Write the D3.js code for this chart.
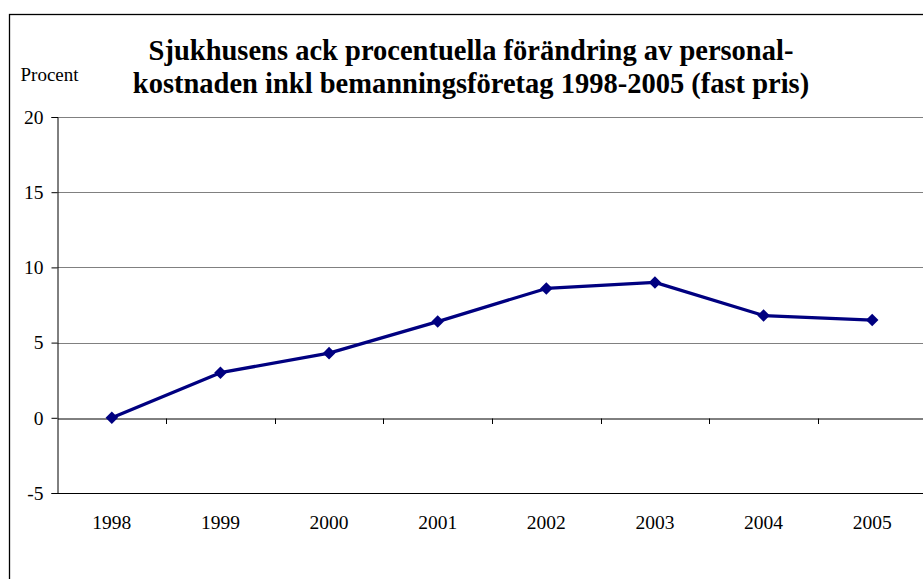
<!DOCTYPE html>
<html><head><meta charset="utf-8">
<script src="https://cdn.jsdelivr.net/npm/d3@7"></script>
<style>body{margin:0;background:#fff}svg{display:block}</style>
</head><body>
<svg id="c" width="923" height="579"></svg>
<script>
const years = ["1998","1999","2000","2001","2002","2003","2004","2005"];
const values = [0, 3.0, 4.3, 6.4, 8.6, 9.0, 6.8, 6.5];
const yTicks = [-5, 0, 5, 10, 15, 20];
const titleLines = ["Sjukhusens ack procentuella förändring av personal-", "kostnaden inkl bemanningsföretag 1998-2005 (fast pris)"];
const yLabel = "Procent";

const svg = d3.select("#c");
const font = "Liberation Serif, Times New Roman, serif";
const L = 57.5, R = 926.5, T = 117, B = 493;

svg.append("rect").attr("x",9.5).attr("y",14.5).attr("width",1000).attr("height",1000)
  .attr("fill","#fff").attr("stroke","#000").attr("stroke-width",1.3);

const x = d3.scaleBand().domain(years).range([L, R]).padding(0);
const y = d3.scaleLinear().domain([-5, 20]).range([B, T]);

// gridlines
svg.append("g").selectAll("line").data(yTicks.filter(v => v !== -5 && v !== 0)).join("line")
  .attr("x1", L).attr("x2", R).attr("y1", d => Math.round(y(d))+0.5).attr("y2", d => Math.round(y(d))+0.5)
  .attr("stroke", "#808080").attr("stroke-width", 1);

// y axis
const ya = d3.axisLeft(y).tickValues(yTicks).tickSize(6).tickPadding(8).tickFormat(d => String(d));
const gy = svg.append("g").attr("transform", `translate(${L},0)`).call(ya);
gy.attr("font-family", font).attr("font-size", 19.5);
gy.select(".domain").attr("stroke","#000");
gy.selectAll("line").attr("stroke","#000");
gy.selectAll("text").attr("fill","#000");

// bottom border
svg.append("line").attr("x1", L).attr("x2", R).attr("y1", Math.round(B)+0.5).attr("y2", Math.round(B)+0.5)
  .attr("stroke","#000");

// zero axis with ticks at band boundaries
const xa = d3.axisBottom(x).tickSize(0).tickFormat("");
const gx = svg.append("g").attr("transform", `translate(0,${Math.round(y(0))+0.5})`).call(xa);
gx.select(".domain").attr("stroke","#000");
svg.append("g").selectAll("line").data(years.slice(1)).join("line")
  .attr("x1", d => Math.round(x(d))+0.5).attr("x2", d => Math.round(x(d))+0.5)
  .attr("y1", Math.round(y(0))+0.5).attr("y2", Math.round(y(0))+6)
  .attr("stroke","#000");

// category labels
svg.append("g").selectAll("text").data(years).join("text")
  .attr("x", d => x(d) + x.bandwidth()/2).attr("y", 529)
  .attr("text-anchor","middle").attr("font-family", font).attr("font-size", 19.5)
  .text(d => d);

// line
const cx = (d,i) => x(years[i]) + x.bandwidth()/2;
svg.append("path").datum(values)
  .attr("fill","none").attr("stroke","#000080").attr("stroke-width",3.3).attr("stroke-linejoin","round")
  .attr("d", d3.line().x((d,i)=>cx(d,i)).y(d=>y(d)));
svg.append("g").selectAll("path").data(values).join("path")
  .attr("d", d3.symbol().type(d3.symbolDiamond2).size(100))
  .attr("transform", (d,i) => `translate(${cx(d,i)},${y(d)})`)
  .attr("fill","#000080");

// title
svg.append("g").selectAll("text").data(titleLines).join("text")
  .attr("x", 471).attr("y", (d,i) => 60 + i*33)
  .attr("text-anchor","middle").attr("font-family", font).attr("font-size", 28.5).attr("font-weight","bold")
  .text(d => d);

svg.append("text").attr("x", 20.5).attr("y", 81).attr("font-family", font).attr("font-size", 19).text(yLabel);
</script>
</body></html>
